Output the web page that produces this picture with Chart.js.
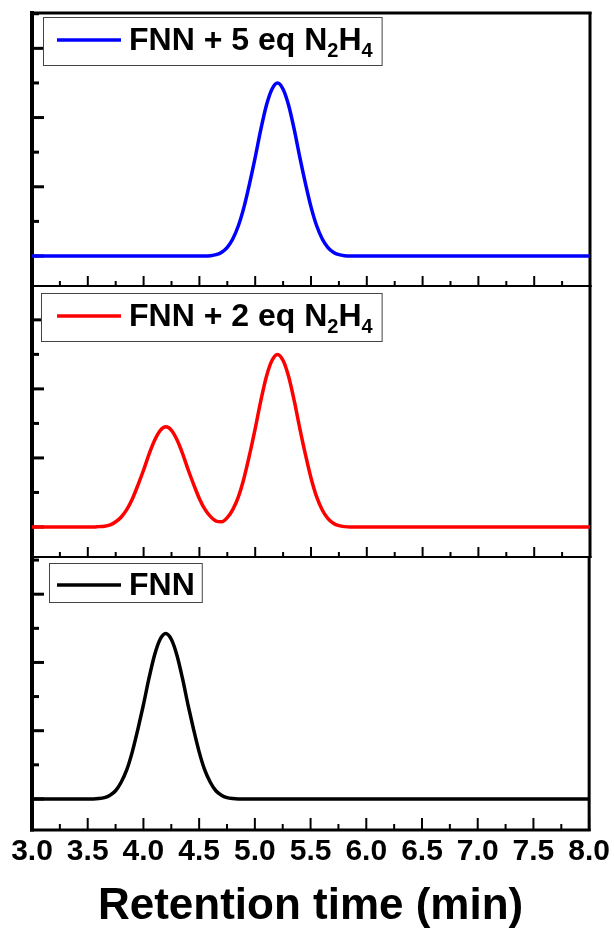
<!DOCTYPE html>
<html>
<head>
<meta charset="utf-8">
<title>Retention time chromatograms</title>
<script src="https://cdn.jsdelivr.net/npm/chart.js@4.4.1/dist/chart.umd.min.js"></script>
<style>
  html, body { margin: 0; padding: 0; background: #fff; }
  #wrap { position: relative; width: 614px; height: 938px; }
  #wrap canvas { position: absolute; left: 0; top: 0; }
</style>
</head>
<body>
<div id="wrap">
  <canvas id="panel-top" width="614" height="938"></canvas>
  <canvas id="panel-mid" width="614" height="938"></canvas>
  <canvas id="panel-bottom" width="614" height="938"></canvas>
</div>
<script>
// Retention time (min) sample points, shared by the three traces
const retentionTime = [
    3.0, 3.5, 3.55, 3.6, 3.65, 3.7, 3.75, 3.8, 3.85, 3.9, 3.95,
    4.0, 4.05, 4.1, 4.15, 4.2, 4.25, 4.3, 4.35, 4.4, 4.45,
    4.5, 4.55, 4.6, 4.65, 4.7, 4.75, 4.8, 4.85, 4.9, 4.95,
    5.0, 5.05, 5.1, 5.15, 5.2, 5.25, 5.3, 5.35, 5.4, 5.45,
    5.5, 5.55, 5.6, 5.65, 5.7, 5.75, 5.8, 5.85, 5.9, 8.0
];

// Detector signal (a.u.)
const fnn5eq = [
    0, 0, 0, 0, 0, 0, 0, 0, 0, 0, 0,
    0, 0, 0, 0, 0, 0, 0, 0, 0, 0,
    0, 0, 0.01, 0.04, 0.11, 0.25, 0.5, 0.88, 1.42, 2.1,
    2.85, 3.65, 4.35, 4.82, 5.0, 4.82, 4.35, 3.65, 2.85, 2.1,
    1.42, 0.88, 0.5, 0.25, 0.11, 0.04, 0.01, 0, 0, 0
];
const fnn2eq = [
    0, 0, 0, 0.01, 0.02, 0.06, 0.15, 0.29, 0.51, 0.82, 1.22,
    1.65, 2.12, 2.52, 2.8, 2.9, 2.8, 2.52, 2.12, 1.65, 1.22,
    0.82, 0.51, 0.3, 0.17, 0.15, 0.27, 0.51, 0.88, 1.42, 2.1,
    2.85, 3.65, 4.35, 4.82, 5.0, 4.82, 4.35, 3.65, 2.85, 2.1,
    1.42, 0.88, 0.5, 0.25, 0.11, 0.04, 0.01, 0, 0, 0
];
const fnn = [
    0, 0, 0, 0.01, 0.04, 0.11, 0.24, 0.49, 0.85, 1.38, 2.04,
    2.76, 3.54, 4.22, 4.68, 4.85, 4.68, 4.22, 3.54, 2.76, 2.04,
    1.38, 0.85, 0.49, 0.24, 0.11, 0.04, 0.01, 0, 0, 0,
    0, 0, 0, 0, 0, 0, 0, 0, 0, 0,
    0, 0, 0, 0, 0, 0, 0, 0, 0, 0
];

// "_d" marks a subscript digit
const legendLabels = ['FNN + 5 eq N_2H_4', 'FNN + 2 eq N_2H_4', 'FNN'];
const lineColors = ['#0000ff', '#ff0000', '#000000'];

const xMajorTicks = [3.0, 3.5, 4.0, 4.5, 5.0, 5.5, 6.0, 6.5, 7.0, 7.5, 8.0];
const xMinorTicks = [3.25, 3.75, 4.25, 4.75, 5.25, 5.75, 6.25, 6.75, 7.25, 7.75];
const yMajorTicks = [0, 2, 4, 6];
const yMinorTicks = [1, 3, 5, 7];
const xAxisTitle = 'Retention time (min)';

const FONT = '"Liberation Sans", Arial, Helvetica, sans-serif';

/**
 * Frame of one panel: axis lines and inward tick marks
 */
const panelFrame = {
    id: 'panelFrame',
    beforeDatasetsDraw(chart, args, opts) {
        const { ctx, chartArea: a, scales: { x, y } } = chart;
        ctx.save();
        ctx.strokeStyle = '#000';
        ctx.lineCap = 'butt';

        // x ticks on the bottom edge, pointing up
        ctx.lineWidth = 2;
        xMajorTicks.forEach(v => {
            const px = x.getPixelForValue(v);
            ctx.beginPath();
            ctx.moveTo(px, a.bottom);
            ctx.lineTo(px, a.bottom - opts.xMajor);
            ctx.stroke();
        });
        xMinorTicks.forEach(v => {
            const px = x.getPixelForValue(v);
            ctx.beginPath();
            ctx.moveTo(px, a.bottom);
            ctx.lineTo(px, a.bottom - opts.xMinor);
            ctx.stroke();
        });

        // y ticks on the left edge, pointing right
        ctx.lineWidth = 3;
        yMajorTicks.forEach(v => {
            const py = y.getPixelForValue(v);
            ctx.beginPath();
            ctx.moveTo(a.left, py);
            ctx.lineTo(a.left + 12, py);
            ctx.stroke();
        });
        yMinorTicks.forEach(v => {
            const py = y.getPixelForValue(v);
            if (py < a.top + 1) return;
            ctx.beginPath();
            ctx.moveTo(a.left, py);
            ctx.lineTo(a.left + 7, py);
            ctx.stroke();
        });

        // box lines
        ctx.lineWidth = opts.bottomWidth;
        ctx.beginPath();
        ctx.moveTo(a.left - 2, a.bottom);
        ctx.lineTo(a.right + 1.5, a.bottom);
        ctx.stroke();
        if (opts.topWidth) {
            ctx.lineWidth = opts.topWidth;
            ctx.beginPath();
            ctx.moveTo(a.left - 2, a.top + 1);
            ctx.lineTo(a.right + 1.5, a.top + 1);
            ctx.stroke();
        }
        ctx.lineWidth = 3;
        ctx.beginPath();
        ctx.moveTo(a.right, a.top);
        ctx.lineTo(a.right, a.bottom + 1);
        ctx.stroke();
        ctx.lineWidth = 4;
        ctx.beginPath();
        ctx.moveTo(a.left, a.top - 1);
        ctx.lineTo(a.left, a.bottom + 1.5);
        ctx.stroke();
        ctx.restore();
    }
};

/**
 * Boxed legend with subscript digits
 */
const panelLegend = {
    id: 'panelLegend',
    afterDatasetsDraw(chart, args, opts) {
        const { ctx } = chart;
        const ds = chart.data.datasets[0];
        const parts = ds.label.split(/_(\d)/);

        // measure the label first, to size the box
        let w = 0;
        parts.forEach((p, i) => {
            ctx.font = `bold ${i % 2 ? 20 : 32}px ${FONT}`;
            w += ctx.measureText(p).width;
        });
        const right = opts.textX + w + opts.padRight;

        ctx.save();
        ctx.fillStyle = '#fff';
        ctx.fillRect(opts.left, opts.top, right - opts.left, opts.bottom - opts.top);
        ctx.strokeStyle = '#444';
        ctx.lineWidth = 1;
        ctx.strokeRect(opts.left + 0.5, opts.top + 0.5, right - opts.left, opts.bottom - opts.top);

        ctx.strokeStyle = ds.borderColor;
        ctx.lineWidth = 3.5;
        ctx.beginPath();
        ctx.moveTo(57, opts.lineY);
        ctx.lineTo(121, opts.lineY);
        ctx.stroke();

        ctx.fillStyle = '#000';
        ctx.textBaseline = 'alphabetic';
        let x = opts.textX;
        parts.forEach((p, i) => {
            const sub = i % 2 === 1;
            ctx.font = `bold ${sub ? 20 : 32}px ${FONT}`;
            ctx.fillText(p, x, opts.lineY + 10 + (sub ? 7 : 0));
            x += ctx.measureText(p).width;
        });
        ctx.restore();
    }
};

function toPoints(values) {
    return retentionTime.map((t, i) => ({ x: t, y: values[i] }));
}

function makePanel(canvasId, idx, values, yRange, padding, frame, legend, showX) {
    const xScale = {
        type: 'linear',
        min: 3,
        max: 8,
        display: showX
    };
    if (showX) {
        Object.assign(xScale, {
            position: 'bottom',
            grid: { display: false, drawTicks: false },
            border: { display: false },
            afterBuildTicks: s => { s.ticks = xMajorTicks.map(v => ({ value: v })); },
            afterFit: s => { s.height = 108; },
            ticks: {
                autoSkip: false,
                maxRotation: 0,
                padding: 4,
                color: '#000',
                font: { family: FONT, size: 30, weight: 'bold' },
                callback: v => v.toFixed(1)
            },
            title: {
                display: true,
                text: xAxisTitle,
                color: '#000',
                font: { family: FONT, size: 44, weight: 'bold' },
                padding: { top: 0, bottom: 5 }
            }
        });
    }

    return new Chart(document.getElementById(canvasId), {
        type: 'line',
        data: {
            datasets: [{
                label: legendLabels[idx],
                data: toPoints(values),
                borderColor: lineColors[idx],
                borderWidth: 3.5,
                pointRadius: 0,
                fill: false,
                cubicInterpolationMode: 'monotone'
            }]
        },
        options: {
            responsive: false,
            animation: false,
            events: [],
            layout: { padding },
            plugins: {
                legend: { display: false },
                tooltip: { enabled: false },
                panelFrame: frame,
                panelLegend: legend
            },
            scales: {
                x: xScale,
                y: { display: false, min: yRange[0], max: yRange[1] }
            }
        },
        plugins: [panelFrame, panelLegend]
    });
}

makePanel('panel-top', 0, fnn5eq, [-0.867, 7.05],
    { left: 32, right: 24, top: 12, bottom: 652 },
    { xMajor: 10, xMinor: 5, bottomWidth: 2, topWidth: 3 },
    { left: 43, top: 17, bottom: 65, lineY: 40, textX: 129, padRight: 9 },
    false);

makePanel('panel-mid', 1, fnn2eq, [-0.87, 7.01],
    { left: 32, right: 24, top: 285, bottom: 381 },
    { xMajor: 10, xMinor: 5, bottomWidth: 2, topWidth: 0 },
    { left: 41, top: 293, bottom: 341, lineY: 316, textX: 129, padRight: 9 },
    false);

makePanel('panel-bottom', 2, fnn, [-0.91, 7.09],
    { left: 32, right: 24, top: 557, bottom: 0 },
    { xMajor: 12, xMinor: 6, bottomWidth: 3, topWidth: 0 },
    { left: 49, top: 563, bottom: 602, lineY: 585, textX: 129, padRight: 7 },
    true);
</script>
</body>
</html>
